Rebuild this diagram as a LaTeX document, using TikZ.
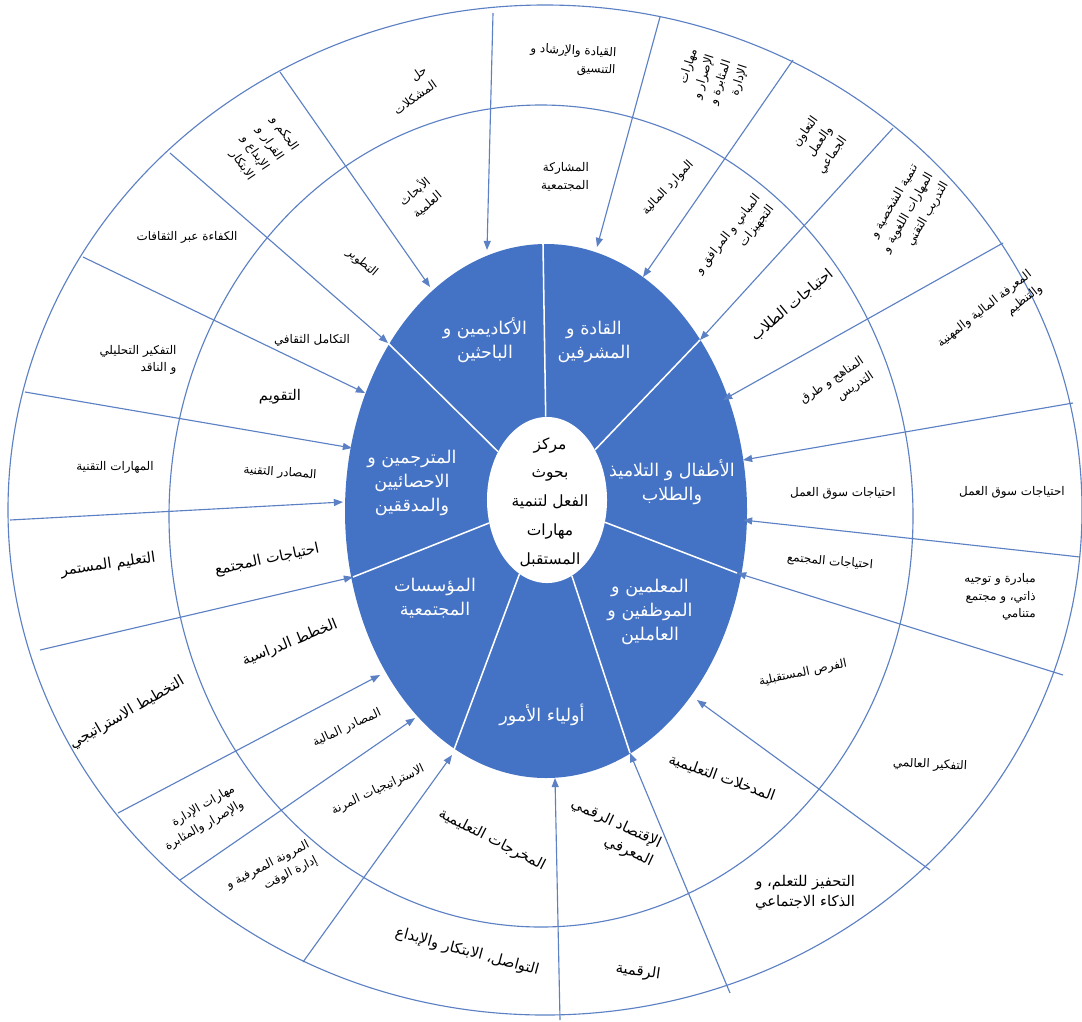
\documentclass[tikz,border=0pt]{standalone}
\usepackage{fontspec}
\usepackage{tikz}
\usetikzlibrary{arrows.meta, shapes.geometric}
\newfontfamily\arabicfont[Script=Arabic]{DejaVu Sans}
\TeXXeTstate=1
\definecolor{wheelblue}{RGB}{68, 114, 196}
\definecolor{wheelline}{RGB}{92, 128, 196}
\newcommand{\arline}[1]{\beginR #1\endR}
\tikzset{
    ringline/.style={draw=wheelline, line width=0.8pt},
    spoke/.style={draw=wheelline, line width=0.8pt, -{Triangle[length=6.5pt, width=5pt]}},
    divider/.style={draw=white, line width=1.1pt},
    hubnode/.style={ellipse, fill=white, minimum width=3cm, minimum height=4.15cm, inner sep=0pt},
    hubtext/.style={font=\arabicfont\fontsize{11}{20.5}\selectfont, align=center},
    groupnode/.style={text=white, font=\arabicfont\fontsize{12.5}{17}\selectfont, align=center},
    smalltext/.style={font=\arabicfont\fontsize{8.5}{12.5}\selectfont, align=right, inner sep=1pt},
    largetext/.style={font=\arabicfont\fontsize{10.5}{14}\selectfont, align=right, inner sep=1pt}
}

\begin{document}
\begin{tikzpicture}[x=0.025cm, y=-0.025cm]
    \useasboundingbox (0,0) rectangle (1082,1021);
    \fill[white] (0,0) rectangle (1082,1021);

    % rings
    \draw[ringline] (545,510) ellipse [x radius=537, y radius=505];
    \draw[ringline] (541,516) ellipse [x radius=372, y radius=411];
    \fill[wheelblue] (546,511) ellipse [x radius=201, y radius=267];

    % spoke ends
    \coordinate (rim1) at (493,13);    \coordinate (edge1) at (487,250);
    \coordinate (rim2) at (660,17);    \coordinate (edge2) at (597,247);
    \coordinate (rim3) at (793,60);    \coordinate (edge3) at (643,277);
    \coordinate (rim4) at (893,128);   \coordinate (edge4) at (700,340);
    \coordinate (rim5) at (1003,243);  \coordinate (edge5) at (723,400);
    \coordinate (rim6) at (1073,403);  \coordinate (edge6) at (743,460);
    \coordinate (rim7) at (1080,557);  \coordinate (edge7) at (743,520);
    \coordinate (rim8) at (1063,675);  \coordinate (edge8) at (737,573);
    \coordinate (rim9) at (930,870);   \coordinate (edge9) at (697,700);
    \coordinate (rim10) at (730,993);  \coordinate (edge10) at (630,753);
    \coordinate (rim11) at (560,1020); \coordinate (edge11) at (555,778);
    \coordinate (rim12) at (303,962);  \coordinate (edge12) at (452,755);
    \coordinate (rim13) at (118,813);  \coordinate (edge13) at (380,675);
    \coordinate (rim14) at (180,880);  \coordinate (edge14) at (415,718);
    \coordinate (rim15) at (40,650);   \coordinate (edge15) at (353,577);
    \coordinate (rim16) at (10,520);   \coordinate (edge16) at (343,502);
    \coordinate (rim17) at (25,392);   \coordinate (edge17) at (352,448);
    \coordinate (rim18) at (83,257);   \coordinate (edge18) at (365,393);
    \coordinate (rim19) at (170,153);  \coordinate (edge19) at (388,343);
    \coordinate (rim20) at (280,72);   \coordinate (edge20) at (430,287);
    \coordinate (edgetop) at (543,244);

    \draw[spoke] (rim1) -- (edge1);
    \draw[spoke] (rim2) -- (edge2);
    \draw[spoke] (rim3) -- (edge3);
    \draw[spoke] (rim4) -- (edge4);
    \draw[spoke] (rim5) -- (edge5);
    \draw[spoke] (rim6) -- (edge6);
    \draw[spoke] (rim7) -- (edge7);
    \draw[spoke] (rim8) -- (edge8);
    \draw[spoke] (rim9) -- (edge9);
    \draw[spoke] (rim10) -- (edge10);
    \draw[spoke] (rim11) -- (edge11);
    \draw[spoke] (rim12) -- (edge12);
    \draw[spoke] (rim13) -- (edge13);
    \draw[spoke] (rim14) -- (edge14);
    \draw[spoke] (rim15) -- (edge15);
    \draw[spoke] (rim16) -- (edge16);
    \draw[spoke] (rim17) -- (edge17);
    \draw[spoke] (rim18) -- (edge18);
    \draw[spoke] (rim19) -- (edge19);
    \draw[spoke] (rim20) -- (edge20);

    % hub and sectors
    \node[hubnode] (hub) at (547,500) {};
    \draw[divider] (hub) -- (edgetop);
    \draw[divider] (hub) -- (edge4);
    \draw[divider] (hub) -- (edge8);
    \draw[divider] (hub) -- (edge10);
    \draw[divider] (hub) -- (edge12);
    \draw[divider] (hub) -- (edge15);
    \draw[divider] (hub) -- (edge19);
    \node[hubtext] (title) at (550,502) {\arline{مركز}\\\arline{بحوث}\\\arline{الفعل لتنمية}\\\arline{مهارات}\\\arline{المستقبل}};

    \node[groupnode] (acad) at (485,340) {\arline{الأكاديمين و}\\\arline{الباحثين}};
    \node[groupnode] (lead) at (594,342) {\arline{القادة و}\\\arline{المشرفين}};
    \node[groupnode] (pupils) at (672,482) {\arline{الأطفال و التلاميذ}\\\arline{والطلاب}};
    \node[groupnode] (teach) at (650,612) {\arline{المعلمين و}\\\arline{الموظفين و}\\\arline{العاملين}};
    \node[groupnode] (parents) at (542,715) {\arline{أولياء الأمور}};
    \node[groupnode] (inst) at (435,598) {\arline{المؤسسات}\\\arline{المجتمعية}};
    \node[groupnode] (transl) at (412,483) {\arline{المترجمين و}\\\arline{الاحصائيين}\\\arline{والمدققين}};

    % middle ring
    \node[smalltext] (m1) at (565,177) {\arline{المشاركة}\\\arline{المجتمعية}};
    \node[smalltext, rotate=47] (m2) at (668,188) {\arline{الموارد المالية}};
    \node[smalltext, rotate=52] (m3) at (735,240) {\arline{المباني و المرافق و}\\\arline{التجهيزات}};
    \node[largetext, rotate=40] (m4) at (792,305) {\arline{احتياجات الطلاب}};
    \node[smalltext, rotate=34] (m5) at (837,388) {\arline{المناهج و طرق}\\\arline{التدريس}};
    \node[smalltext] (m6) at (843,493) {\arline{احتياجات سوق العمل}};
    \node[smalltext, rotate=-5] (m7) at (830,562) {\arline{احتياجات المجتمع}};
    \node[smalltext, rotate=12] (m8) at (803,673) {\arline{الفرص المستقبلية}};
    \node[largetext, rotate=-20] (m9) at (722,778) {\arline{المدخلات التعليمية}};
    \node[largetext, rotate=-25] (m10) at (612,833) {\arline{الإقتصاد الرقمي}\\\arline{المعرفي}};
    \node[largetext, rotate=-27] (m11) at (492,840) {\arline{المخرجات التعليمية}};
    \node[smalltext, rotate=25] (m12) at (378,790) {\arline{الاستراتيجيات المرنة}};
    \node[smalltext, rotate=25] (m13) at (347,728) {\arline{المصادر المالية}};
    \node[largetext, rotate=22] (m14) at (290,643) {\arline{الخطط الدراسية}};
    \node[largetext, rotate=12] (m15) at (267,560) {\arline{احتياجات المجتمع}};
    \node[smalltext, rotate=-4] (m16) at (280,473) {\arline{المصادر التقنية}};
    \node[largetext] (m17) at (280,397) {\arline{التقويم}};
    \node[smalltext] (m18) at (312,340) {\arline{التكامل الثقافي}};
    \node[smalltext, rotate=-40] (m19) at (362,263) {\arline{التطوير}};
    \node[smalltext, rotate=40] (m20) at (420,198) {\arline{الأبحاث}\\\arline{العلمية}};

    % outer ring
    \node[smalltext, rotate=-3] (o1) at (573,60) {\arline{القيادة والإرشاد و}\\\arline{التنسيق}};
    \node[smalltext, rotate=72] (o2) at (712,80) {\arline{مهارات}\\\arline{الإصرار و}\\\arline{المثابرة و}\\\arline{الإدارة}};
    \node[smalltext, rotate=55] (o3) at (818,145) {\arline{التعاون}\\\arline{والعمل}\\\arline{الجماعي}};
    \node[smalltext, rotate=60] (o4) at (908,213) {\arline{تنمية الشخصية و}\\\arline{المهارات اللغوية و}\\\arline{التدريب التقني}};
    \node[smalltext, rotate=38] (o5) at (990,316) {\arline{المعرفة المالية والمهنية}\\\arline{والتنظيم}};
    \node[smalltext] (o6) at (1012,492) {\arline{احتياجات سوق العمل}};
    \node[smalltext] (o7) at (1000,597) {\arline{مبادرة و توجيه}\\\arline{ذاتي، و مجتمع}\\\arline{متنامي}};
    \node[smalltext, rotate=-3] (o8) at (930,765) {\arline{التفكير العالمي}};
    \node[largetext] (o9) at (805,893) {\arline{التحفيز للتعلم، و}\\\arline{الذكاء الاجتماعي}};
    \node[largetext, rotate=-8] (o10) at (638,972) {\arline{الرقمية}};
    \node[largetext, rotate=-15] (o11) at (467,952) {\arline{التواصل، الابتكار والإبداع}};
    \node[smalltext, rotate=27] (o12) at (272,873) {\arline{المرونة المعرفية و}\\\arline{إدارة الوقت}};
    \node[smalltext, rotate=30] (o13) at (200,818) {\arline{مهارات الإدارة}\\\arline{والإصرار والمثابرة}};
    \node[largetext, rotate=30] (o14) at (127,713) {\arline{التخطيط الاستراتيجي}};
    \node[largetext, rotate=8] (o15) at (108,565) {\arline{التعليم المستمر}};
    \node[smalltext] (o16) at (115,467) {\arline{المهارات التقنية}};
    \node[smalltext] (o17) at (138,360) {\arline{التفكير التحليلي}\\\arline{و الناقد}};
    \node[smalltext] (o18) at (187,237) {\arline{الكفاءة عبر الثقافات}};
    \node[smalltext, rotate=-56] (o19) at (262,148) {\arline{الحكم و}\\\arline{القرار و}\\\arline{الإبداع و}\\\arline{الابتكار}};
    \node[smalltext, rotate=35] (o20) at (410,90) {\arline{حل}\\\arline{المشكلات}};
\end{tikzpicture}
\end{document}
